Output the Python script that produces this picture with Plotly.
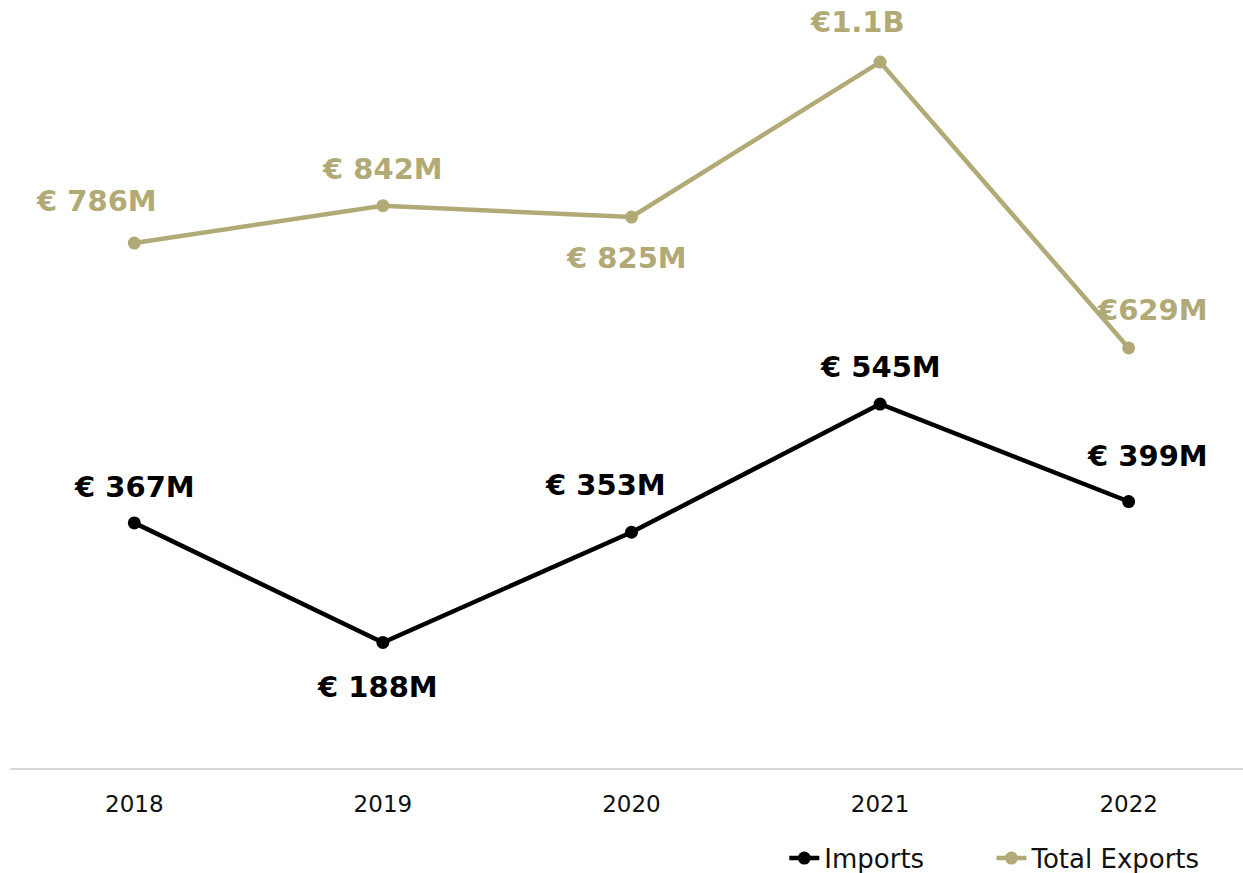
import plotly.graph_objects as go

years = ["2018", "2019", "2020", "2021", "2022"]
imports = [367, 188, 353, 545, 399]
exports = [786, 842, 825, 1057, 629]
import_labels = ["€ 367M", "€ 188M", "€ 353M", "€ 545M", "€ 399M"]
export_labels = ["€ 786M", "€ 842M", "€ 825M", "€1.1B", "€629M"]

BLACK = "#000000"
KHAKI = "#b2aa76"
FONT = "DejaVu Sans"

# label offsets (pixels) relative to each point
import_shift = [(0, 36), (-5, -45), (-26, 47), (0, 37), (19, 46)]
export_shift = [(-38, 42), (0, 37), (-5, -41), (-23, 40), (24, 38)]

fig = go.Figure()
fig.add_trace(go.Scatter(
    x=years, y=imports, name="Imports", mode="lines+markers",
    line=dict(color=BLACK, width=4.5), marker=dict(color=BLACK, size=13),
    legend="legend",
))
fig.add_trace(go.Scatter(
    x=years, y=exports, name="Total Exports", mode="lines+markers",
    line=dict(color=KHAKI, width=4.5), marker=dict(color=KHAKI, size=13),
    legend="legend2",
))

# category axes place categories at integer positions 0..n-1
for i, (v, t, (dx, dy)) in enumerate(zip(imports, import_labels, import_shift)):
    fig.add_annotation(x=i, y=v, text=f"<b>{t}</b>", showarrow=False,
                       xshift=dx, yshift=dy,
                       font=dict(family=FONT, size=29, color=BLACK))
for i, (v, t, (dx, dy)) in enumerate(zip(exports, export_labels, export_shift)):
    fig.add_annotation(x=i, y=v, text=f"<b>{t}</b>", showarrow=False,
                       xshift=dx, yshift=dy,
                       font=dict(family=FONT, size=29, color=KHAKI))

legend_style = dict(orientation="h", xanchor="left",
                    yref="container", y=0.017, yanchor="middle",
                    font=dict(family=FONT, size=26, color="#111111"),
                    bgcolor="rgba(0,0,0,0)")

fig.update_layout(
    width=1243, height=873,
    margin=dict(l=10, r=0, t=10, b=105, autoexpand=False),
    paper_bgcolor="white", plot_bgcolor="white",
    font=dict(family=FONT, size=20, color="#111111"),
    showlegend=True,
    legend=dict(x=0.628, **legend_style),
    legend2=dict(x=0.796, **legend_style),
    xaxis=dict(type="category", range=[-0.5, 4.46], showgrid=False,
               showline=True, linecolor="#d9d9d9", linewidth=2,
               ticks="", ticklabelstandoff=14,
               tickfont=dict(size=23, color="#111111"),
               zeroline=False),
    yaxis=dict(range=[0, 1135], visible=False, showgrid=False, zeroline=False),
)

fig.write_html("out.html")
